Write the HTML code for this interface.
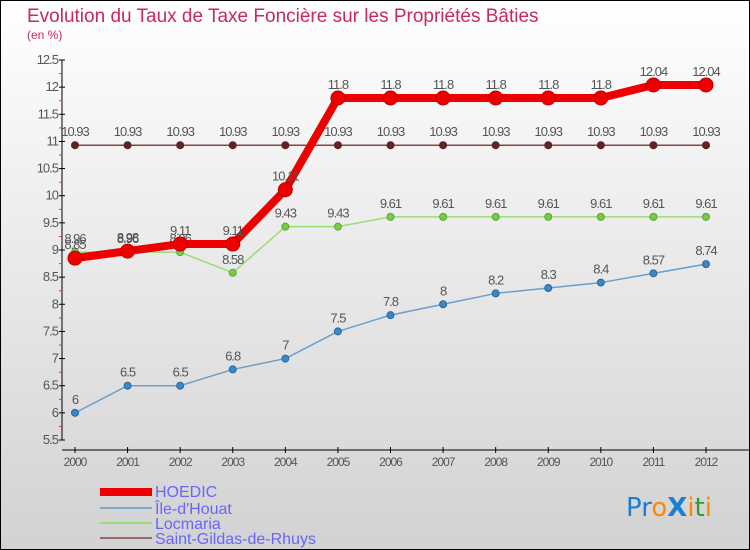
<!DOCTYPE html>
<html><head><meta charset="utf-8"><style>
html,body{margin:0;padding:0}
body{width:750px;height:550px;overflow:hidden;font-family:"Liberation Sans","DejaVu Sans",sans-serif}
</style></head><body>
<svg id="chart" width="750" height="550" xmlns="http://www.w3.org/2000/svg" style="display:block">
<defs><linearGradient id="bg" x1="0" y1="0" x2="0" y2="1"><stop offset="0" stop-color="#ffffff"/><stop offset="1" stop-color="#d2d2d2"/></linearGradient></defs>
<rect x="0.5" y="0.5" width="749" height="549" fill="url(#bg)" stroke="#000"/>
<text x="27" y="22" font-size="19" fill="#c8285a">Evolution du Taux de Taxe Foncière sur les Propriétés Bâties</text>
<text x="27" y="39" font-size="12" fill="#c8285a">(en %)</text>
<g id="axes"></g><g id="series"></g>
<g font-size="16" fill="#6666ff">
<rect x="100" y="488" width="52" height="8" fill="#ee0000"/>
<text x="155" y="497">HOEDIC</text>
<rect x="100" y="507" width="52" height="2" fill="#7aaad0"/>
<text x="155" y="514">Île-d'Houat</text>
<rect x="100" y="522" width="52" height="2" fill="#99dd77"/>
<text x="155" y="529">Locmaria</text>
<rect x="100" y="537" width="52" height="2" fill="#996666"/>
<text x="155" y="544">Saint-Gildas-de-Rhuys</text>
</g>
<text x="626" y="516" font-size="26" font-family="'Comic Sans MS','DejaVu Sans',sans-serif"><tspan fill="#1a7fd0">Pr</tspan><tspan fill="#ff8800">o</tspan><tspan fill="#1a7fd0" font-weight="bold">X</tspan><tspan fill="#ff8800">i</tspan><tspan fill="#339933">t</tspan><tspan fill="#ff8800">i</tspan></text>
</svg>
<script>
const years=[2000,2001,2002,2003,2004,2005,2006,2007,2008,2009,2010,2011,2012];
const hoedic=[8.85,8.98,9.11,9.11,10.11,11.8,11.8,11.8,11.8,11.8,11.8,12.04,12.04];
const houat=[6,6.5,6.5,6.8,7,7.5,7.8,8,8.2,8.3,8.4,8.57,8.74];
const locmaria=[8.96,8.96,8.96,8.58,9.43,9.43,9.61,9.61,9.61,9.61,9.61,9.61,9.61];
const gildas=[10.93,10.93,10.93,10.93,10.93,10.93,10.93,10.93,10.93,10.93,10.93,10.93,10.93];
const yTicks=[5.5,6,6.5,7,7.5,8,8.5,9,9.5,10,10.5,11,11.5,12,12.5];
const NS="http://www.w3.org/2000/svg";
const xS=i=>75+i*(706-75)/(years.length-1);
const yS=v=>440-(v-5.5)*(380/7);
function mk(t,a,p){const e=document.createElementNS(NS,t);for(const k in a)e.setAttribute(k,a[k]);p.appendChild(e);return e;}
const axes=document.getElementById('axes'),ser=document.getElementById('series');
let e=mk('line',{x1:62,y1:60,x2:62,y2:440,stroke:'#000'},axes);


e=mk('line',{x1:62,y1:450,x2:750,y2:450,stroke:'#000'},axes);


yTicks.forEach((v,i)=>{const y=yS(v);
 mk('line',{x1:59,y1:y,x2:65,y2:y,stroke:'#000'},axes);
 if(i<yTicks.length-1)mk('line',{x1:59,y1:y-13.5,x2:62,y2:y-13.5,stroke:'#e33'},axes);
 const t=mk('text',{x:58,y:y+4,'text-anchor':'end','font-size':13,fill:'#555','letter-spacing':'-1'},axes);t.textContent=String(v);
 
 
});
years.forEach((yr,i)=>{const x=xS(i);
 mk('line',{x1:x,y1:447,x2:x,y2:453,stroke:'#000'},axes);
 const t=mk('text',{x:x,y:466,'text-anchor':'middle','font-size':12,fill:'#555','letter-spacing':'-1'},axes);t.textContent=yr;
 
 
});
function draw(name,vals,color,w,r,dot,ptStroke){
 const g=mk('g',{},ser);
 
 
 const pl=mk('polyline',{points:vals.map((v,i)=>xS(i)+','+yS(v)).join(' '),fill:'none',stroke:color,'stroke-width':w,'stroke-linejoin':'round'},g);
 
 
 vals.forEach((v,i)=>{
  const c=mk('circle',{cx:xS(i),cy:yS(v),r:r,fill:dot,stroke:ptStroke,'stroke-width':1},g);
  
  
  const t=mk('text',{x:xS(i),y:yS(v)-9,'text-anchor':'middle','font-size':13,fill:'#555','letter-spacing':'-1'},g);t.textContent=String(v);
  
  
 });
}
draw('saint-gildas',gildas,'#884444',1.5,3.5,'#662222','#552222');
draw('ile-d-houat',houat,'#6a9fcc',1.5,3.5,'#3a88cc','#2a6699');
draw('locmaria',locmaria,'#99dd77',1.5,3.5,'#77cc44','#55aa33');
draw('hoedic',hoedic,'#ee0000',8,7,'#ee0000','#bb0000');
</script>
</body></html>
